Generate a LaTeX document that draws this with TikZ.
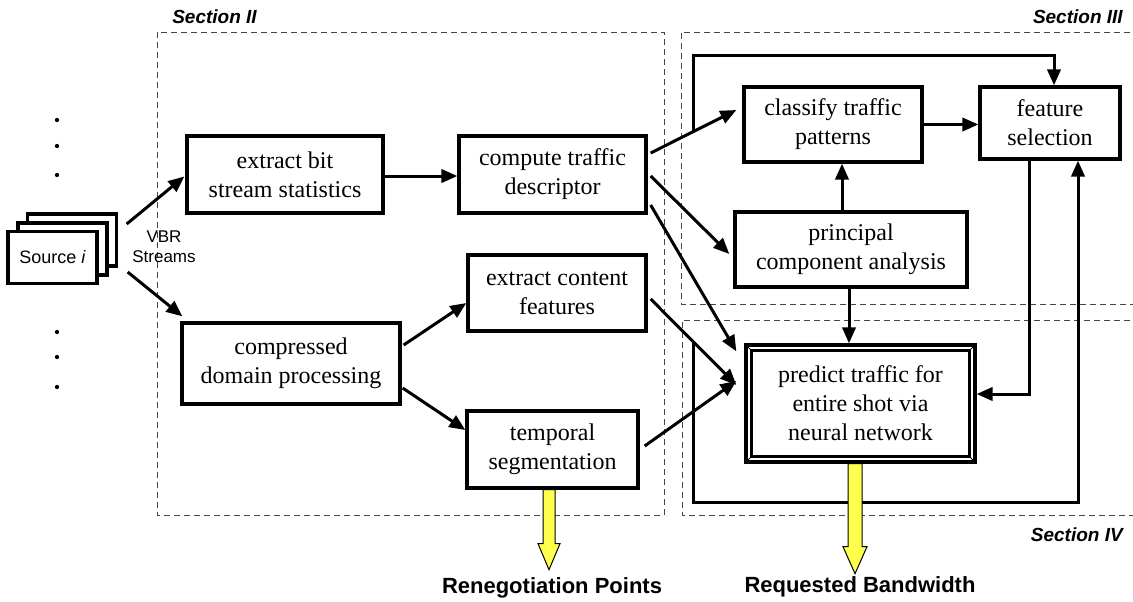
\documentclass[tikz,border=0pt]{standalone}
\usepackage{fontspec}
\setmainfont{Liberation Serif}
\newfontfamily\arialfont{Liberation Sans}
\usetikzlibrary{arrows.meta}

\definecolor{secgray}{RGB}{70,70,70}
\definecolor{outyellow}{RGB}{255,255,77}

\tikzset{
  proc/.style={draw, line width=2.5pt, fill=white, align=center, inner sep=0pt,
    font=\fontsize{18}{21.75}\selectfont},
  srcbox/.style={draw, line width=2.5pt, fill=white, inner sep=0pt,
    minimum width=66.75pt, minimum height=39pt, font=\arialfont\fontsize{13.5}{16}\selectfont},
  arr/.style={line width=2.25pt, -{Triangle[length=12pt,width=10pt]}},
  sect/.style={draw=secgray, line width=0.75pt, dash pattern=on 4.5pt off 3pt},
  seclabel/.style={inner sep=0pt, font=\arialfont\bfseries\itshape\fontsize{14.25}{17}\selectfont},
  outlabel/.style={inner sep=0pt, font=\arialfont\bfseries\fontsize{16.5}{20}\selectfont},
  outarrow/.style={draw, line width=0.75pt, fill=outyellow},
}

\begin{document}
\begin{tikzpicture}[x=0.75pt,y=0.75pt,yscale=-1,xscale=1]
\useasboundingbox (0,0) rectangle (1133,601);

%Shape: section frames
\draw[sect] (157,32) rectangle (664,515);
\draw[sect] (1140,32) -- (681,32) -- (681,304) -- (1140,304);
\draw[sect] (1140,320) -- (682,320) -- (682,515) -- (1140,515);
\node[seclabel, anchor=west] (secII) at (172,17) {Section II};
\node[seclabel, anchor=east] (secIII) at (1123,17) {Section III};
\node[seclabel, anchor=east] (secIV) at (1123,535) {Section IV};

%Shape: dots
\foreach \y in {120,146,175,332,357,387}
  \fill (57,\y) circle (1.6pt);

%Shape: stacked sources
\node[srcbox] (src3) at (72,240) {};
\node[srcbox] (src2) at (62.5,249) {};
\node[srcbox] (src) at (52.5,257.5) {Source \textit{i}};
\node[align=center, inner sep=0pt, font=\arialfont\fontsize{12.75}{15}\selectfont] (vbr) at (164,247) {VBR\\Streams};

%Shape: Section II boxes
\node[proc, minimum width=147pt, minimum height=57.75pt] (bits) at (285,174.5) {extract bit\\stream statistics};
\node[proc, minimum width=140.25pt, minimum height=57.75pt] (desc) at (552.5,174.5) {compute traffic\\descriptor};
\node[proc, minimum width=133.5pt, minimum height=57pt] (content) at (557,293) {extract content\\features};
\node[proc, minimum width=163.5pt, minimum height=60.75pt] (cdp) at (291,363.5) {compressed\\domain processing};
\node[proc, minimum width=128.25pt, minimum height=57.75pt] (seg) at (552.5,449.5) {temporal\\segmentation};

%Shape: Section III boxes
\node[proc, minimum width=133.5pt, minimum height=56.25pt] (classify) at (833,124.5) {classify traffic\\patterns};
\node[proc, minimum width=105pt, minimum height=54pt] (fsel) at (1050,123) {feature\\selection};
\node[proc, minimum width=174pt, minimum height=56.25pt] (pca) at (851,249.5) {principal\\component analysis};

%Shape: Section IV frame box
\node[proc, minimum width=171.75pt, minimum height=87.75pt] (pred) at (860.5,403.5) {predict traffic for\\entire shot via\\neural network};
\draw[line width=2.25pt] ([shift={(7,7)}]pred.north west) rectangle ([shift={(-7,-7)}]pred.south east);
\draw[line width=0.75pt] (pred.north west) -- ++(7,7);
\draw[line width=0.75pt] (pred.north east) -- ++(-7,7);
\draw[line width=0.75pt] (pred.south west) -- ++(7,-7);
\draw[line width=0.75pt] (pred.south east) -- ++(-7,-7);

%Straight Lines
\draw[arr] ([shift={(28,-33.5)}]src.east) -- ([shift={(-1,2)}]bits.west);
\draw[arr] ([shift={(29,14.5)}]src.east) -- ([shift={(2,-5)}]cdp.north west);
\draw[arr] ([shift={(0,1.5)}]bits.east) -- ([shift={(0,1.5)}]desc.west);
\draw[arr] ([shift={(2,-18.5)}]cdp.east) -- ([shift={(0,10)}]content.west);
\draw[arr] ([shift={(1,24.5)}]cdp.east) -- ([shift={(0,-19.5)}]seg.west);
\draw[arr] ([shift={(3,-21.5)}]desc.east) -- coordinate[pos=.5] (fb) ([shift={(-6,-14.5)}]classify.west);
\draw[arr] ([shift={(3,1.5)}]desc.east) -- ([shift={(-4,4.5)}]pca.west);
\draw[arr] ([shift={(3,30.5)}]desc.east) -- ([shift={(-8,8)}]pred.north west);
\draw[arr] ([shift={(3,6)}]content.east) -- ([shift={(-8,-18.5)}]pred.west);
\draw[arr] ([shift={(5,-3.5)}]seg.east) -- ([shift={(-8,-22.5)}]pred.west);
\draw[arr] (classify.east) -- (classify.east -| fsel.west);
\draw[arr] ([shift={(-9,0)}]pca.north) -- ([shift={(-9,0)}]pca.north |- classify.south);
\draw[arr] ([shift={(-2,0)}]pca.south) -- ([shift={(-2,0)}]pca.south |- pred.north);
\draw[arr] ([shift={(-21,0)}]fsel.south) |- ([shift={(0,-9.5)}]pred.east);

%Feedback lines
\draw[arr] (fb) -- ++(0,-76) -| ([shift={(4,0)}]fsel.north);
\coordinate (loopstart) at (693,343);
\draw[arr] (loopstart) -- ++(0,159) -| ([shift={(28,0)}]fsel.south);

%Shape: output arrows
\draw[outarrow] ([shift={(-9.5,0)}]seg.south) -- ++(12,0) -- ++(0,54) -- ++(5,0) -- ++(-11,26) -- ++(-11,-26) -- ++(5,0) -- cycle;
\draw[outarrow] ([shift={(-12.5,0)}]pred.south) -- ++(14,0) -- ++(0,83) -- ++(5,0) -- ++(-12,27) -- ++(-12,-27) -- ++(5,0) -- cycle;
\node[outlabel] (reneg) at (552,588) {Renegotiation Points};
\node[outlabel] (reqbw) at (860,587) {Requested Bandwidth};
\end{tikzpicture}
\end{document}
